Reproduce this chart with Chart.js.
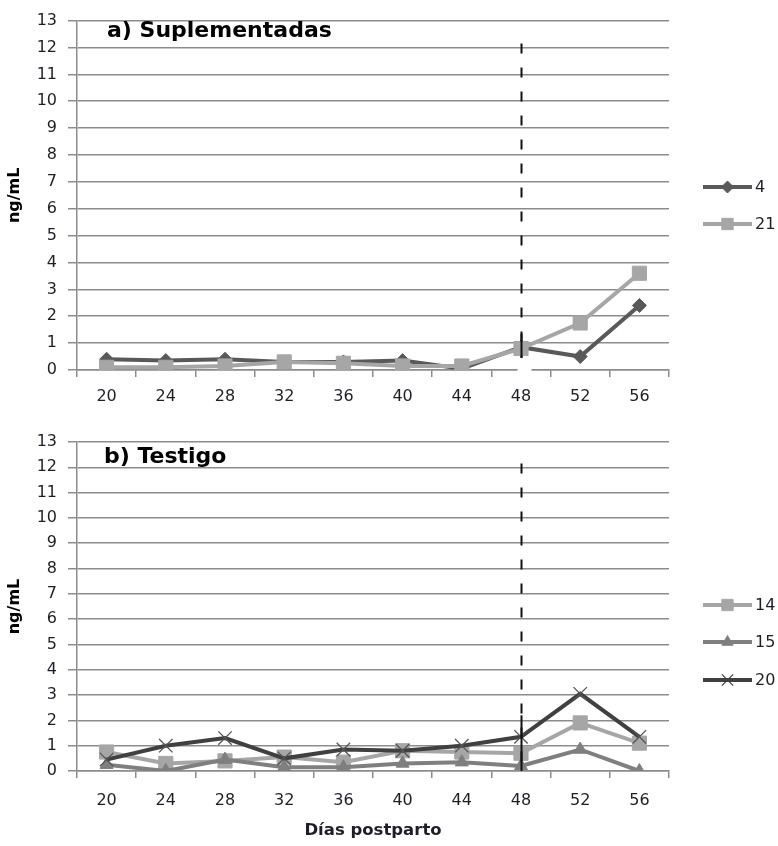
<!DOCTYPE html>
<html><head><meta charset="utf-8">
<script src="https://cdn.jsdelivr.net/npm/chart.js@4/dist/chart.umd.min.js"></script>
<style>
body{margin:0;background:#fff;width:778px;height:846px;position:relative;overflow:hidden}
canvas{position:absolute;left:0}
</style></head>
<body>
<canvas id="c1" width="778" height="415" style="top:0;width:778px;height:415px"></canvas>
<canvas id="c2" width="778" height="431" style="top:415px;width:778px;height:431px"></canvas>
<script>
// ---- data ----
const days = ['20','24','28','32','36','40','44','48','52','56'];
const yMin = 0, yMax = 13, yStep = 1;
const titleA = 'a) Suplementadas';
const titleB = 'b) Testigo';
const yTitle = 'ng/mL';
const xTitle = 'Días postparto';
const markDay = '48';
// a) Suplementadas
const cow4  = [0.40, 0.35, 0.40, 0.30, 0.30, 0.35, 0.05, 0.85, 0.50, 2.40];
const cow21 = [0.10, 0.10, 0.15, 0.30, 0.25, 0.15, 0.15, 0.80, 1.75, 3.60];
// b) Testigo
const cow14 = [0.75, 0.30, 0.40, 0.55, 0.35, 0.80, 0.75, 0.70, 1.90, 1.10];
const cow15 = [0.25, 0.00, 0.45, 0.15, 0.15, 0.30, 0.35, 0.20, 0.85, 0.00];
const cow20 = [0.45, 1.00, 1.30, 0.50, 0.85, 0.80, 1.00, 1.35, 3.05, 1.35];

// ---- styles ----
const GRID = '#8c8c8c';
const TXT = '#1e1e28';
const FONT = 'DejaVu Sans';

function ds(label, data, color, style, radius, order, extra) {
  return Object.assign({
    label, data, borderColor: color, backgroundColor: color,
    borderWidth: 4, pointStyle: style, pointRadius: radius,
    pointBackgroundColor: color, pointBorderColor: color, pointBorderWidth: 1,
    tension: 0, order
  }, extra || {});
}

const markerPlugin = {
  id: 'marker',
  afterDatasetsDraw(chart, args, o) {
    const {ctx, scales:{x, y}, chartArea} = chart;
    const px = Math.round(x.getPixelForValue(days.indexOf(markDay))) + 0.5;
    ctx.save();
    ctx.strokeStyle = '#111';
    ctx.lineWidth = 2;
    ctx.setLineDash([10, 14]);
    ctx.beginPath();
    ctx.moveTo(px, y.getPixelForValue(o.from));
    ctx.lineTo(px, y.getPixelForValue(o.dashTo));
    ctx.stroke();
    ctx.setLineDash([]);
    ctx.beginPath();
    ctx.moveTo(px, y.getPixelForValue(o.solidFrom));
    ctx.lineTo(px, y.getPixelForValue(o.solidTo));
    ctx.stroke();
    if (o.gap) {
      ctx.fillStyle = '#fff';
      ctx.fillRect(px - 4, chartArea.bottom - 9, 14, 12);
    }
    // panel title
    ctx.fillStyle = '#000';
    ctx.font = 'bold 22px "' + FONT + '"';
    ctx.textAlign = 'left';
    ctx.textBaseline = 'alphabetic';
    ctx.fillText(o.title, o.tx, o.ty);
    // legend
    ctx.font = '16px "' + FONT + '"';
    ctx.textBaseline = 'middle';
    o.legend.forEach(it => {
      ctx.strokeStyle = it.color;
      ctx.lineWidth = 4;
      ctx.beginPath();
      ctx.moveTo(703, it.y); ctx.lineTo(752, it.y); ctx.stroke();
      ctx.fillStyle = it.color;
      ctx.strokeStyle = it.color;
      ctx.lineWidth = it.bw || 1;
      Chart.helpers.drawPoint(ctx, {pointStyle: it.style, radius: it.r, borderWidth: it.bw || 1}, 727.5, it.y);
      ctx.fillStyle = TXT;
      ctx.fillText(it.label, 755, it.y + 1);
    });
    ctx.restore();
  }
};

function makeOptions(cfg) {
  return {
    responsive: false, animation: false,
    layout: { padding: { left: 0, right: 109, top: cfg.top, bottom: 0 } },
    plugins: { legend: { display: false }, tooltip: { enabled: false }, marker: cfg.marker },
    scales: {
      x: {
        offset: true,
        grid: { offset: true, drawOnChartArea: false, tickLength: 7, color: GRID, lineWidth: 1.5 },
        border: { display: true, color: GRID, width: 1.5 },
        ticks: { color: TXT, font: { family: FONT, size: 16 }, padding: cfg.xpad, maxRotation: 0, autoSkip: false },
        title: cfg.xTitle ? { display: true, text: cfg.xTitle, color: TXT, font: { family: FONT, size: 16.5, weight: 'bold' }, padding: { top: 4, bottom: 5 } } : { display: false },
        afterFit: s => { s.height = cfg.xh; }
      },
      y: {
        min: yMin, max: yMax,
        grid: { color: GRID, lineWidth: 1.5, tickLength: 9 },
        border: { display: true, color: GRID, width: 1.5 },
        ticks: { stepSize: yStep, color: TXT, font: { family: FONT, size: 16 }, padding: 11 },
        title: { display: true, text: yTitle, color: '#000', font: { family: FONT, size: 16, weight: 'bold' }, padding: { top: 5, bottom: 4 } },
        afterFit: s => { s.width = 77; }
      }
    }
  };
}

new Chart(document.getElementById('c1'), {
  type: 'line',
  data: { labels: days, datasets: [
    ds('4', cow4, '#595959', 'rectRot', 7, 1),
    ds('21', cow21, '#a6a6a6', 'rect', 10, 0)
  ]},
  options: makeOptions({ top: 11, xh: 45, xpad: 10, marker: {
    from: 12.15, dashTo: 0.45, solidFrom: 1.35, solidTo: 0.45, gap: true,
    title: titleA, tx: 107, ty: 37,
    legend: [
      { label: '4', color: '#595959', style: 'rectRot', r: 6, y: 187 },
      { label: '21', color: '#a6a6a6', style: 'rect', r: 8, y: 224 }
    ]
  }}),
  plugins: [markerPlugin]
});

new Chart(document.getElementById('c2'), {
  type: 'line',
  data: { labels: days, datasets: [
    ds('14', cow14, '#a6a6a6', 'rect', 10, 2),
    ds('15', cow15, '#7f7f7f', 'triangle', 7.5, 1),
    ds('20', cow20, '#404040', 'crossRot', 9.5, 0, { pointBorderWidth: 1.3, pointBorderColor: '#555' })
  ]},
  options: makeOptions({ top: 27, xh: 75, xpad: 13, xTitle: xTitle, marker: {
    from: 12.15, dashTo: 0, solidFrom: 2.2, solidTo: 0, gap: false,
    title: titleB, tx: 104, ty: 48,
    legend: [
      { label: '14', color: '#a6a6a6', style: 'rect', r: 8, y: 190 },
      { label: '15', color: '#7f7f7f', style: 'triangle', r: 6.5, y: 227 },
      { label: '20', color: '#404040', style: 'crossRot', r: 8, bw: 1.3, y: 265 }
    ]
  }}),
  plugins: [markerPlugin]
});
</script>
</body></html>
